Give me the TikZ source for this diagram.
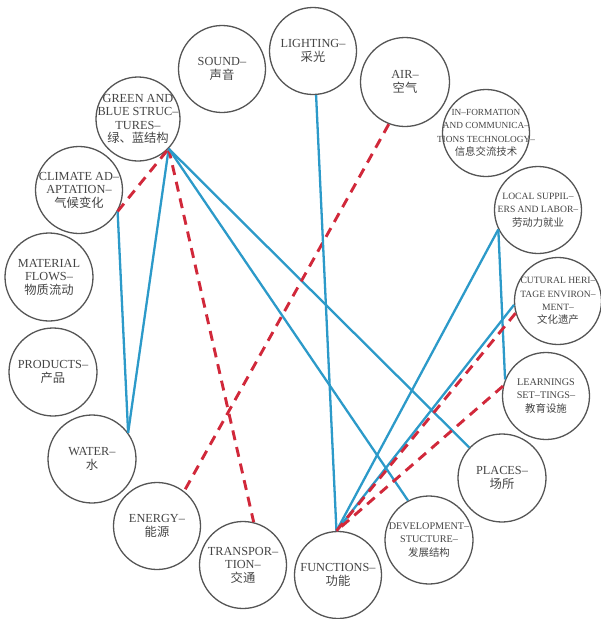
\documentclass[tikz,border=0pt]{standalone}
\usepackage{fontspec}
\setmainfont{Liberation Serif}
\newfontfamily\cjk{Noto Sans CJK SC}
\definecolor{circ}{HTML}{555555}
\definecolor{txt}{HTML}{444444}
\definecolor{lblue}{HTML}{2C9AC9}
\definecolor{lred}{HTML}{D1283A}
\newcommand{\zh}[1]{{\cjk\fontsize{12.3}{13.5}\selectfont #1}}
\newcommand{\zhs}[1]{{\cjk\fontsize{10.4}{13}\selectfont #1}}
\begin{document}
\begin{tikzpicture}[x=1pt,y=-1pt,
  topic/.style={circle, draw=circ, line width=1.3pt, minimum size=#1, inner sep=0pt},
  topic/.default=87pt,
  lbl/.style={align=center, text=txt, font=\fontsize{12.3}{13.5}\selectfont},
  lbls/.style={align=center, text=txt, font=\fontsize{9.6}{13.3}\selectfont},
  bl/.style={draw=lblue, line width=2.3pt},
  rd/.style={draw=lred, line width=2.9pt, dash pattern=on 10pt off 7pt}]
\useasboundingbox (0,0) rectangle (601,619);
\node[topic, label={[lbl]center:SOUND–\\\zh{声音}}] (sound) at (222,69) {};
\node[topic, label={[lbl]center:LIGHTING–\\\zh{采光}}] (light) at (313,51) {};
\node[topic=89pt, label={[lbl]center:AIR–\\\zh{空气}}] (air) at (405,82) {};
\node[topic=84pt, label={[lbl]center:GREEN AND\\BLUE STRUC–\\TURES–\\\zh{绿、蓝结构}}] (green) at (138,119) {};
\node[topic, label={[lbls,font=\fontsize{9.3}{13.5}\selectfont]center:IN–FORMATION\\AND COMMUNICA–\\TIONS TECHNOLOGY–\\\zhs{信息交流技术}}] (ict) at (486,133) {};
\node[topic, label={[lbls]center:LOCAL SUPPIL–\\ERS AND LABOR–\\\zhs{劳动力就业}}] (local) at (538,210) {};
\node[topic, label={[lbl]center:CLIMATE AD–\\APTATION–\\\zh{气候变化}}] (climate) at (79,190) {};
\node[topic=88pt, label={[lbl]center:MATERIAL\\FLOWS–\\\zh{物质流动}}] (material) at (49,277) {};
\node[topic=88pt, label={[lbl]center:PRODUCTS–\\\zh{产品}}] (products) at (53,372) {};
\node[topic=88pt, label={[lbl]center:WATER–\\\zh{水}}] (water) at (92,459) {};
\node[topic, label={[lbl]center:ENERGY–\\\zh{能源}}] (energy) at (157,526) {};
\node[topic, label={[lbl]center:TRANSPOR–\\TION–\\\zh{交通}}] (transport) at (243,565) {};
\node[topic, label={[lbl]center:FUNCTIONS–\\\zh{功能}}] (func) at (338,575) {};
\node[topic=88pt, label={[lbls,font=\fontsize{10.2}{13.5}\selectfont]center:DEVELOPMENT–\\STUCTURE–\\\zhs{发展结构}}] (dev) at (429,540) {};
\node[topic=88pt, label={[lbl]center:PLACES–\\\zh{场所}}] (places) at (502,478) {};
\node[topic, label={[lbls,font=\fontsize{10.2}{13.5}\selectfont]center:LEARNINGS\\SET–TINGS–\\\zhs{教育设施}}] (learn) at (546,396) {};
\node[topic, label={[lbls]center:CUTURAL HERI–\\TAGE ENVIRON–\\MENT–\\\zhs{文化遗产}}] (cultural) at (558,301) {};
% connectors
\draw[bl] (green.-44) -- (water.36);
\draw[bl] (climate.-29) -- (water.36);
\draw[rd] (climate.-29) -- (green.-44);
\draw[rd] (green.-44) -- (transport.76);
\draw[bl] (green.-44) -- (dev.118);
\draw[bl] (green.-44) -- (places.137);
\draw[rd] (air.-111) -- (energy.52);
\draw[bl] (light.-86) -- (func.92);
\draw[bl] (local.206) -- (func.92);
\draw[bl] (local.206) -- (learn.158);
\draw[bl] (cultural.185) -- (func.92);
\draw[rd] (cultural.196) -- (func.92);
\draw[rd] (learn.167) -- (func.92);
\end{tikzpicture}
\end{document}
